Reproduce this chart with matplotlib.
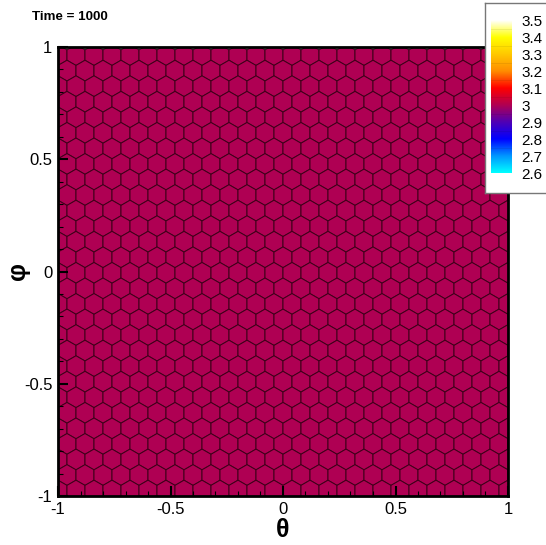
import matplotlib
matplotlib.use("Agg")
import matplotlib.pyplot as plt
import numpy as np
from matplotlib.collections import PolyCollection
from matplotlib.colors import LinearSegmentedColormap

plt.rcParams['font.family'] = ['Liberation Sans', 'DejaVu Sans']

# Datos del grafico
tiempo = 1000
valor_celdas = 3.0            # todas las celdas tienen el mismo valor
niveles = [2.6, 2.7, 2.8, 2.9, 3.0, 3.1, 3.2, 3.3, 3.4, 3.5]
colores_niveles = ["#00ffff", "#0096ff", "#0000ff", "#5000b4", "#b00052",
                   "#ff0000", "#ff8c00", "#ffc800", "#ffff00", "#ffffff"]
ticks_eje = [-1, -0.5, 0, 0.5, 1]
etiquetas_eje = ["-1", "-0.5", "0", "0.5", "1"]

# Malla hexagonal (celdas de Voronoi de una red triangular)
a = 0.08                      # separacion entre particulas
dy = a * np.sqrt(3) / 2
R = a / np.sqrt(3)
y0 = 0.964

ang = np.deg2rad(np.arange(6) * 60 + 30)
hx, hy = R * np.cos(ang), R * np.sin(ang)

celdas = []
fila = 0
y = y0
while y > -1 - R:
    off = 0.16 if fila % 2 == 0 else 0.12
    x = -1 + off - 3 * a
    while x < 1 + a:
        celdas.append(np.column_stack([x + hx, y + hy]))
        x += a
    y -= dy
    fila += 1

cmap = LinearSegmentedColormap.from_list(
    "tec", list(zip(np.linspace(0, 1, len(niveles)), colores_niveles)))

fig = plt.figure(figsize=(5.46, 5.45), dpi=100)
ax = fig.add_axes([58/546, 49/545, 450/546, 449/545])

pc = PolyCollection(celdas, cmap=cmap, edgecolors="#3c0018", linewidths=0.7)
pc.set_array(np.full(len(celdas), valor_celdas))
pc.set_clim(niveles[0], niveles[-1])
ax.add_collection(pc)

ax.set_xlim(-1, 1)
ax.set_ylim(-1, 1)
ax.set_xticks(ticks_eje)
ax.set_xticklabels(etiquetas_eje)
ax.set_yticks(ticks_eje)
ax.set_yticklabels(etiquetas_eje)
ax.set_xticks(np.arange(-1, 1.01, 0.1), minor=True)
ax.set_yticks(np.arange(-1, 1.01, 0.1), minor=True)
ax.tick_params(which="major", direction="in", length=7.2, width=1.5,
               labelsize=12, pad=4)
ax.tick_params(which="minor", direction="in", length=3.6, width=0.8)
for s in ax.spines.values():
    s.set_linewidth(2)
ax.set_xlabel("θ", fontsize=18, fontweight="bold")
ax.set_ylabel("φ", fontsize=18, fontweight="bold")
ax.xaxis.set_label_coords(0.5, -0.048)
ax.yaxis.set_label_coords(-0.062, 0.5)

fig.text(32/546, 1 - 17/545, "Time = %d" % tiempo, fontsize=9.6,
         fontweight="bold", va="center", ha="left")

# Leyenda de colores tipo Tecplot
caja = fig.add_axes([485/546, 352/545, 62/546, 190/545])
caja.set_xticks([])
caja.set_yticks([])
for s in caja.spines.values():
    s.set_edgecolor("#777777")
    s.set_linewidth(1)
caja.set_zorder(5)

cax = fig.add_axes([491/546, 372/545, 21/546, 153/545])
cax.set_zorder(6)
grad = np.linspace(niveles[0], niveles[-1], 256).reshape(-1, 1)
cax.imshow(grad, aspect="auto", origin="lower", cmap=cmap,
           extent=[0, 1, niveles[0], niveles[-1]])
# lineas tenues entre niveles
for v in niveles[1:-1]:
    cax.axhline(v + 0.05, color="k", alpha=0.08, lw=0.6)
cax.set_ylim(niveles[0], niveles[-1])
cax.set_xticks([])
cax.yaxis.tick_right()
cax.set_yticks(niveles)
cax.set_yticklabels(["%g" % v for v in niveles])
cax.tick_params(axis="y", length=0, labelsize=11, pad=7)
for s in cax.spines.values():
    s.set_visible(False)

fig.savefig("out.png", dpi=100)
